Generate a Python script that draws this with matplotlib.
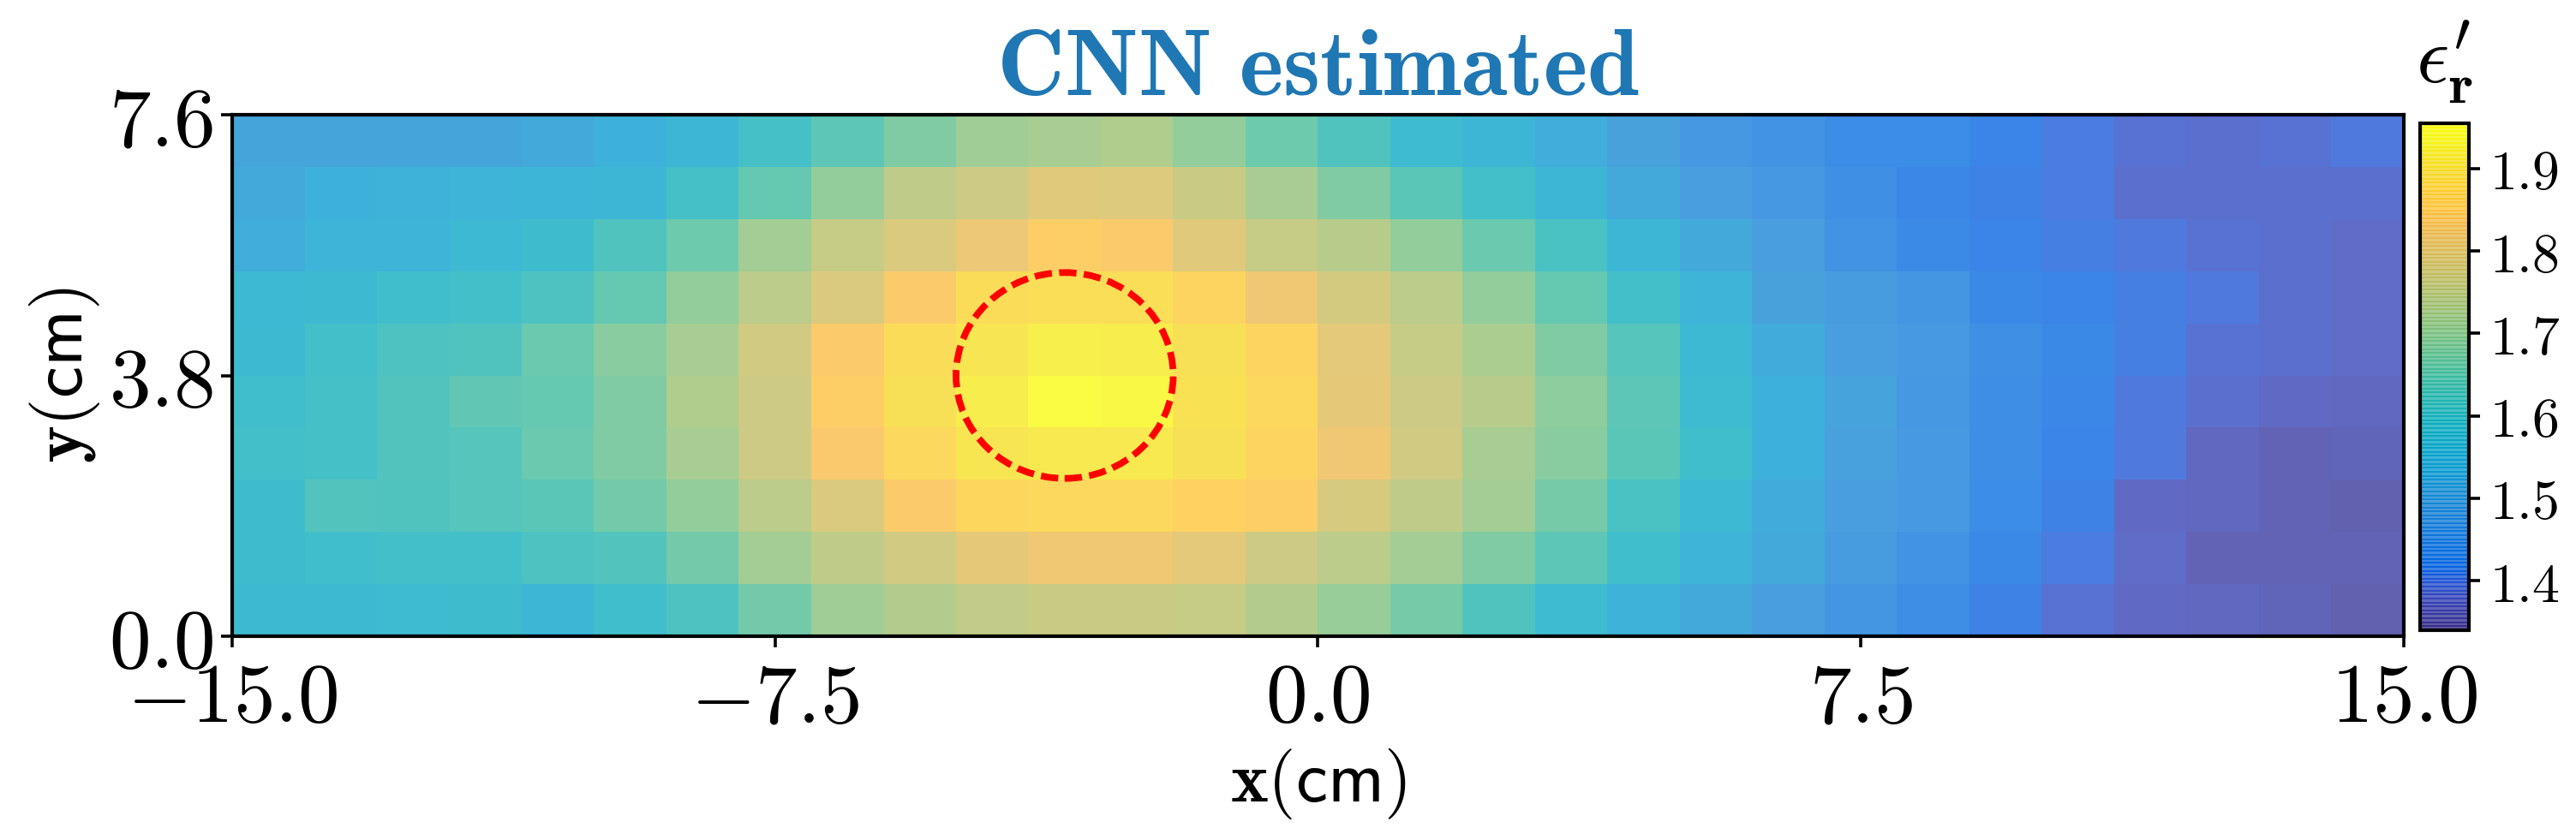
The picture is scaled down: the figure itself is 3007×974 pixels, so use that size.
import matplotlib

matplotlib.use("Agg")
import matplotlib.pyplot as plt
import numpy as np
from matplotlib.colors import ListedColormap
from matplotlib.patches import Circle

plt.rcParams["mathtext.fontset"] = "cm"
plt.rcParams["font.family"] = ["DejaVu Sans"]

# permittivity, one list per row, top row first
row_t0 = [1.51, 1.51, 1.51, 1.51, 1.52, 1.54, 1.56, 1.60, 1.64, 1.68, 1.71, 1.72, 1.73, 1.70, 1.66, 1.62, 1.58, 1.56, 1.53, 1.50, 1.47, 1.46, 1.44, 1.44, 1.42, 1.405, 1.39, 1.385, 1.39, 1.40]
row_t1 = [1.52, 1.54, 1.545, 1.55, 1.555, 1.56, 1.60, 1.65, 1.70, 1.75, 1.77, 1.80, 1.795, 1.765, 1.72, 1.68, 1.635, 1.595, 1.56, 1.52, 1.49, 1.47, 1.45, 1.425, 1.415, 1.405, 1.385, 1.385, 1.385, 1.385]
row_t2 = [1.53, 1.55, 1.55, 1.57, 1.585, 1.62, 1.66, 1.715, 1.76, 1.79, 1.82, 1.85, 1.84, 1.80, 1.76, 1.74, 1.70, 1.655, 1.61, 1.56, 1.52, 1.49, 1.46, 1.435, 1.42, 1.41, 1.40, 1.39, 1.385, 1.38]
row_t3 = [1.57, 1.575, 1.59, 1.595, 1.615, 1.65, 1.70, 1.745, 1.79, 1.84, 1.885, 1.89, 1.89, 1.865, 1.825, 1.78, 1.745, 1.70, 1.65, 1.595, 1.55, 1.50, 1.48, 1.465, 1.43, 1.42, 1.41, 1.40, 1.385, 1.38]
row_t4 = [1.575, 1.595, 1.615, 1.62, 1.655, 1.69, 1.72, 1.775, 1.84, 1.885, 1.905, 1.925, 1.92, 1.895, 1.865, 1.805, 1.76, 1.725, 1.68, 1.63, 1.57, 1.525, 1.49, 1.475, 1.45, 1.43, 1.41, 1.39, 1.385, 1.38]
row_t5 = [1.59, 1.60, 1.625, 1.645, 1.65, 1.68, 1.73, 1.77, 1.85, 1.895, 1.92, 1.955, 1.945, 1.90, 1.875, 1.81, 1.77, 1.74, 1.695, 1.64, 1.58, 1.54, 1.505, 1.47, 1.445, 1.425, 1.40, 1.385, 1.375, 1.37]
row_t6 = [1.595, 1.60, 1.625, 1.63, 1.655, 1.68, 1.72, 1.77, 1.835, 1.875, 1.905, 1.915, 1.915, 1.895, 1.865, 1.825, 1.775, 1.72, 1.69, 1.635, 1.59, 1.54, 1.495, 1.475, 1.445, 1.42, 1.40, 1.37, 1.36, 1.365]
row_t7 = [1.585, 1.625, 1.62, 1.63, 1.635, 1.665, 1.70, 1.745, 1.79, 1.84, 1.87, 1.875, 1.875, 1.86, 1.85, 1.785, 1.75, 1.715, 1.67, 1.61, 1.57, 1.525, 1.49, 1.475, 1.44, 1.415, 1.375, 1.37, 1.36, 1.355]
row_t8 = [1.585, 1.59, 1.595, 1.595, 1.615, 1.625, 1.665, 1.715, 1.75, 1.775, 1.81, 1.825, 1.825, 1.805, 1.77, 1.745, 1.715, 1.68, 1.64, 1.59, 1.55, 1.52, 1.485, 1.46, 1.43, 1.405, 1.38, 1.36, 1.36, 1.36]
row_t9 = [1.575, 1.575, 1.58, 1.585, 1.56, 1.59, 1.615, 1.665, 1.71, 1.735, 1.755, 1.765, 1.765, 1.76, 1.735, 1.705, 1.67, 1.62, 1.58, 1.545, 1.52, 1.49, 1.465, 1.445, 1.415, 1.39, 1.375, 1.37, 1.365, 1.355]

x_ticks = [-15.0, -7.5, 0.0, 7.5, 15.0]
y_ticks = [0.0, 3.8, 7.6]
cbar_ticks = [1.4, 1.5, 1.6, 1.7, 1.8, 1.9]
vmin, vmax = 1.34, 1.955
circle_center = (-3.5, 3.8)
circle_radius = 1.5

# MATLAB parula, every few entries
parula_colors = [
    (0.2081, 0.1663, 0.5292), (0.2123, 0.2138, 0.6270), (0.1959, 0.2645, 0.7279),
    (0.1253, 0.3242, 0.8303), (0.0117, 0.3875, 0.8820), (0.0165, 0.4266, 0.8786),
    (0.0498, 0.4586, 0.8641), (0.0723, 0.4887, 0.8467), (0.0793, 0.5200, 0.8312),
    (0.0641, 0.5570, 0.8240), (0.0343, 0.5966, 0.8199), (0.0239, 0.6287, 0.8038),
    (0.0228, 0.6535, 0.7768), (0.0384, 0.6743, 0.7436), (0.0843, 0.6928, 0.7062),
    (0.1453, 0.7098, 0.6646), (0.2178, 0.7250, 0.6193), (0.3022, 0.7376, 0.5712),
    (0.3953, 0.7459, 0.5244), (0.4871, 0.7491, 0.4840), (0.5709, 0.7485, 0.4494),
    (0.6473, 0.7456, 0.4188), (0.7184, 0.7411, 0.3905), (0.7858, 0.7356, 0.3633),
    (0.8507, 0.7299, 0.3360), (0.9139, 0.7258, 0.3063), (0.9739, 0.7314, 0.2666),
    (0.9990, 0.7653, 0.2164), (0.9880, 0.8066, 0.1794), (0.9697, 0.8481, 0.1475),
    (0.9589, 0.8949, 0.1132), (0.9661, 0.9514, 0.0755), (0.9763, 0.9831, 0.0538),
]
parula = ListedColormap(
    [
        [np.interp(t, np.linspace(0, 1, len(parula_colors)), [c[i] for c in parula_colors]) for i in range(3)]
        for t in np.linspace(0, 1, 128)
    ]
)

WIDTH, HEIGHT = 3007, 974


def px_axes(fig, left, top, right, bottom):
    return fig.add_axes([left / WIDTH, 1 - bottom / HEIGHT, (right - left) / WIDTH, (bottom - top) / HEIGHT])


values = np.array([row_t9, row_t8, row_t7, row_t6, row_t5, row_t4, row_t3, row_t2, row_t1, row_t0])
x_edges = np.linspace(x_ticks[0], x_ticks[-1], values.shape[1] + 1)
y_edges = np.linspace(y_ticks[0], y_ticks[-1], values.shape[0] + 1)

fig = plt.figure(figsize=(WIDTH / 200, HEIGHT / 200), dpi=200)
ax = px_axes(fig, 271, 134, 2806, 743)
mesh = ax.pcolormesh(x_edges, y_edges, values, cmap=parula, vmin=vmin, vmax=vmax, alpha=0.78, shading="flat")
ax.add_patch(Circle(circle_center, circle_radius, fill=False, edgecolor="red", linewidth=2.8, linestyle=(0, (2.6, 1.1))))

ax.set_xticks(x_ticks, [f"${v:.1f}$" for v in x_ticks])
ax.set_yticks(y_ticks, [f"${v:.1f}$" for v in y_ticks])
ax.tick_params(labelsize=35, length=4.8, width=1.3, pad=3)
ax.tick_params(axis="x", pad=5)
for spine in ax.spines.values():
    spine.set_linewidth(1.5)
ax.set_xlabel(r"$\mathbf{x}\mathsf{(cm)}$", fontsize=30, labelpad=3)
ax.set_ylabel(r"$\mathbf{y}\mathsf{(cm)}$", fontsize=30, labelpad=3)
ax.set_title(r"$\mathbf{CNN\ estimated}$", fontsize=39.5, color="#1f77b4", pad=7)

cax = px_axes(fig, 2825, 144, 2882, 736)
cbar = fig.colorbar(mesh, cax=cax, ticks=cbar_ticks)
cbar.ax.tick_params(labelsize=23, length=4.5, width=1.3, pad=4)
cbar.ax.set_yticklabels([f"${v:.1f}$" for v in cbar_ticks])
cbar.outline.set_linewidth(1.5)
# seams between the colour steps, as in the original bar
cbar.solids.set_edgecolor("face")
cbar.solids.set_linewidth(0.08)
cax.set_title(r"$\epsilon_{\mathbf{r}}^{\prime}$", fontsize=34, pad=17)

fig.savefig("out.png", dpi=200)
plt.close(fig)
